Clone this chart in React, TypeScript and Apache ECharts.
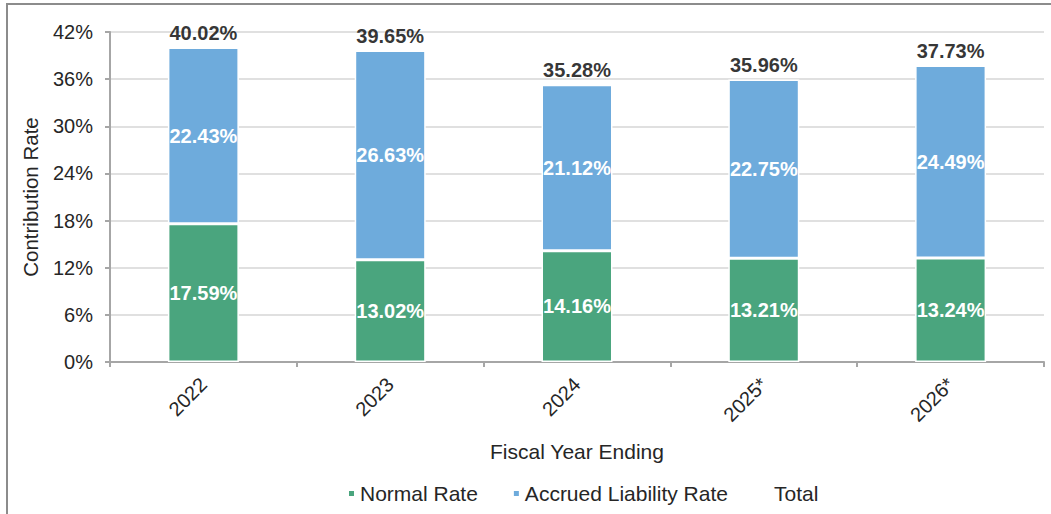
import React, { useEffect, useRef } from "react";
import * as echarts from "echarts";

const years = ["2022", "2023", "2024", "2025*", "2026*"];
const normalRate = [17.59, 13.02, 14.16, 13.21, 13.24];
const accruedRate = [22.43, 26.63, 21.12, 22.75, 24.49];
const totalRate = [40.02, 39.65, 35.28, 35.96, 37.73];
const yTicks = [0, 6, 12, 18, 24, 30, 36, 42];

const FONT = "Liberation Sans, Arial, sans-serif";
const TXT = "#262626";

export default function App() {
  const ref = useRef<HTMLDivElement>(null);
  useEffect(() => {
    document.body.style.margin = "0";
    const chart = echarts.init(ref.current!, undefined, { renderer: "svg" });
    const pct = (p: any) => Number(p.value).toFixed(2) + "%";
    const inLabel = {
      show: true,
      position: "inside",
      formatter: pct,
      color: "#ffffff",
      fontWeight: "bold",
      fontSize: 20,
      fontFamily: FONT,
    };
    chart.setOption({
      animation: false,
      textStyle: { fontFamily: FONT },
      graphic: [
        {
          type: "rect",
          shape: { x: 7, y: 4, width: 1100, height: 600 },
          style: { fill: "none", stroke: "#8c8c8c", lineWidth: 2 },
          silent: true,
        },
      ],
      grid: { left: 110, right: 7, top: 32, bottom: 152 },
      legend: {
        left: 342,
        top: 478,
        icon: "rect",
        itemWidth: 7,
        itemHeight: 7,
        itemGap: 34,
        textStyle: { fontSize: 21, color: TXT, fontFamily: FONT },
        data: ["Normal Rate", "Accrued Liability Rate", "Total"],
      },
      xAxis: {
        type: "category",
        data: years,
        name: "Fiscal Year Ending",
        nameLocation: "middle",
        nameGap: 79,
        nameTextStyle: { fontSize: 21, color: TXT, fontFamily: FONT },
        axisLine: { lineStyle: { color: "#a6a6a6", width: 2 } },
        axisTick: { show: true, length: 5, lineStyle: { color: "#a6a6a6", width: 2 } },
        axisLabel: { rotate: 45, fontSize: 20, color: TXT, margin: 19, fontFamily: FONT },
      },
      yAxis: {
        type: "value",
        min: yTicks[0],
        max: yTicks[yTicks.length - 1],
        interval: yTicks[1] - yTicks[0],
        name: "Contribution Rate",
        nameLocation: "middle",
        nameGap: 69,
        nameTextStyle: { fontSize: 20.5, color: TXT, fontFamily: FONT },
        axisLine: { show: true, lineStyle: { color: "#a6a6a6", width: 2 } },
        axisTick: { show: true, length: 5, lineStyle: { color: "#a6a6a6", width: 2 } },
        axisLabel: { formatter: "{value}%", fontSize: 20, color: TXT, margin: 17, fontFamily: FONT },
        splitLine: { lineStyle: { color: "#e0e0e0", width: 2 } },
      },
      series: [
        {
          name: "Normal Rate",
          type: "bar",
          stack: "rate",
          barWidth: "38%",
          data: normalRate,
          itemStyle: { color: "#4aa57e", borderColor: "#ffffff", borderWidth: 1.5 },
          label: inLabel,
        },
        {
          name: "Accrued Liability Rate",
          type: "bar",
          stack: "rate",
          barWidth: "38%",
          data: accruedRate,
          itemStyle: { color: "#6eabdc", borderColor: "#ffffff", borderWidth: 1.5 },
          label: inLabel,
        },
        {
          name: "Total",
          type: "scatter",
          data: totalRate,
          symbolSize: 1,
          itemStyle: { color: "rgba(0,0,0,0)" },
          label: {
            show: true,
            position: "top",
            distance: 4,
            formatter: pct,
            color: "#000000",
            fontWeight: "bold",
            fontSize: 20,
            fontFamily: FONT,
          },
        },
      ],
    });
    return () => chart.dispose();
  }, []);
  return <div ref={ref} style={{ width: 1051, height: 514 }} />;
}
